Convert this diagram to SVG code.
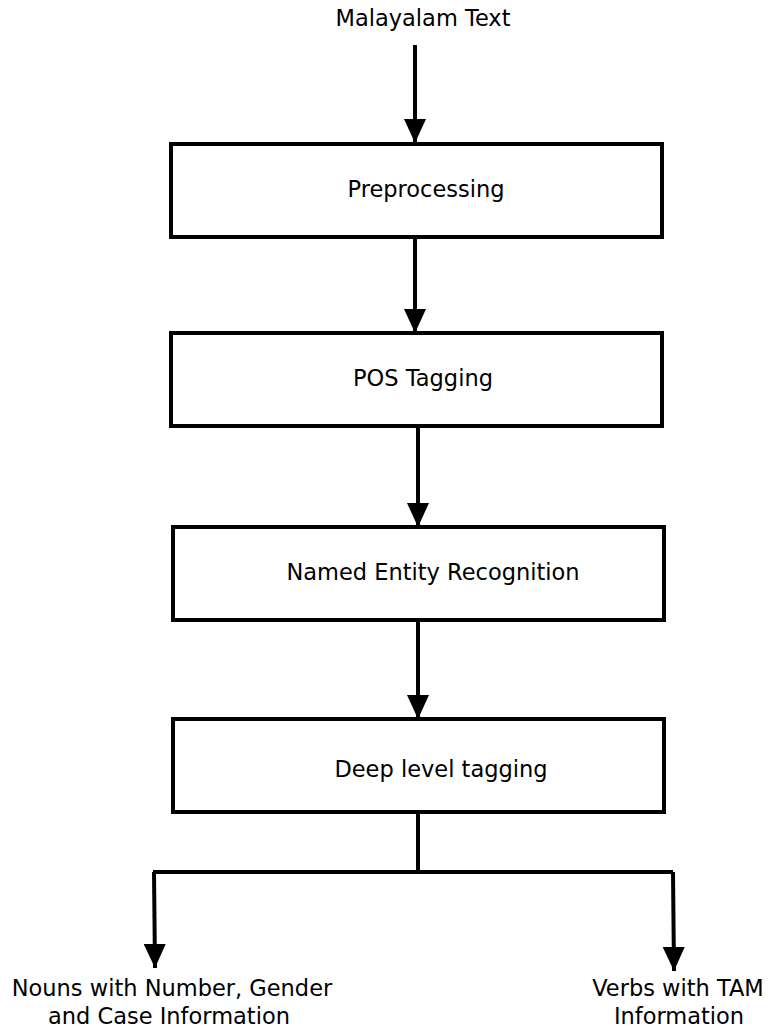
<svg xmlns="http://www.w3.org/2000/svg" width="768" height="1029" viewBox="0 0 768 1029">
  <style>
    .box { fill: #ffffff; stroke: #000000; stroke-width: 4; }
    .wire { fill: none; stroke: #000000; stroke-width: 4; }
    .lbl { font-family: "DejaVu Sans", sans-serif; font-size: 22.5px; fill: #000000; text-anchor: middle; }
  </style>
  <defs>
    <marker id="head" viewBox="0 0 24 22" refX="24" refY="11" markerWidth="24" markerHeight="22" markerUnits="userSpaceOnUse" orient="auto">
      <path d="M0,0 L24,11 L0,22 Z" fill="#000000"/>
    </marker>
  </defs>
  <rect width="768" height="1029" fill="#ffffff"/>

  <g id="connectors">
    <line class="wire" x1="415" y1="45" x2="415" y2="143" marker-end="url(#head)"/>
    <line class="wire" x1="415" y1="237" x2="415" y2="333" marker-end="url(#head)"/>
    <line class="wire" x1="418" y1="426" x2="418" y2="527" marker-end="url(#head)"/>
    <line class="wire" x1="418" y1="620" x2="418" y2="719" marker-end="url(#head)"/>
    <polyline class="wire" points="418,812 418,872"/>
    <polyline class="wire" points="153,872 673,872"/>
    <line class="wire" x1="154" y1="872" x2="155" y2="968" marker-end="url(#head)"/>
    <line class="wire" x1="673" y1="872" x2="674" y2="971" marker-end="url(#head)"/>
  </g>

  <g id="input">
    <text class="lbl" x="423" y="26">Malayalam Text</text>
  </g>
  <g id="preprocessing">
    <rect class="box" x="171" y="144" width="491" height="93"/>
    <text class="lbl" x="426" y="197">Preprocessing</text>
  </g>
  <g id="pos-tagging">
    <rect class="box" x="171" y="333" width="491" height="93"/>
    <text class="lbl" x="423" y="386">POS Tagging</text>
  </g>
  <g id="ner">
    <rect class="box" x="173" y="527" width="491" height="93"/>
    <text class="lbl" x="433" y="580">Named Entity Recognition</text>
  </g>
  <g id="deep-tagging">
    <rect class="box" x="173" y="719" width="491" height="93"/>
    <text class="lbl" x="441" y="777">Deep level tagging</text>
  </g>
  <g id="nouns">
    <text class="lbl" x="172" y="996">Nouns with Number, Gender</text>
    <text class="lbl" x="169" y="1024">and Case Information</text>
  </g>
  <g id="verbs">
    <text class="lbl" x="678" y="996">Verbs with TAM</text>
    <text class="lbl" x="679" y="1024">Information</text>
  </g>
</svg>
